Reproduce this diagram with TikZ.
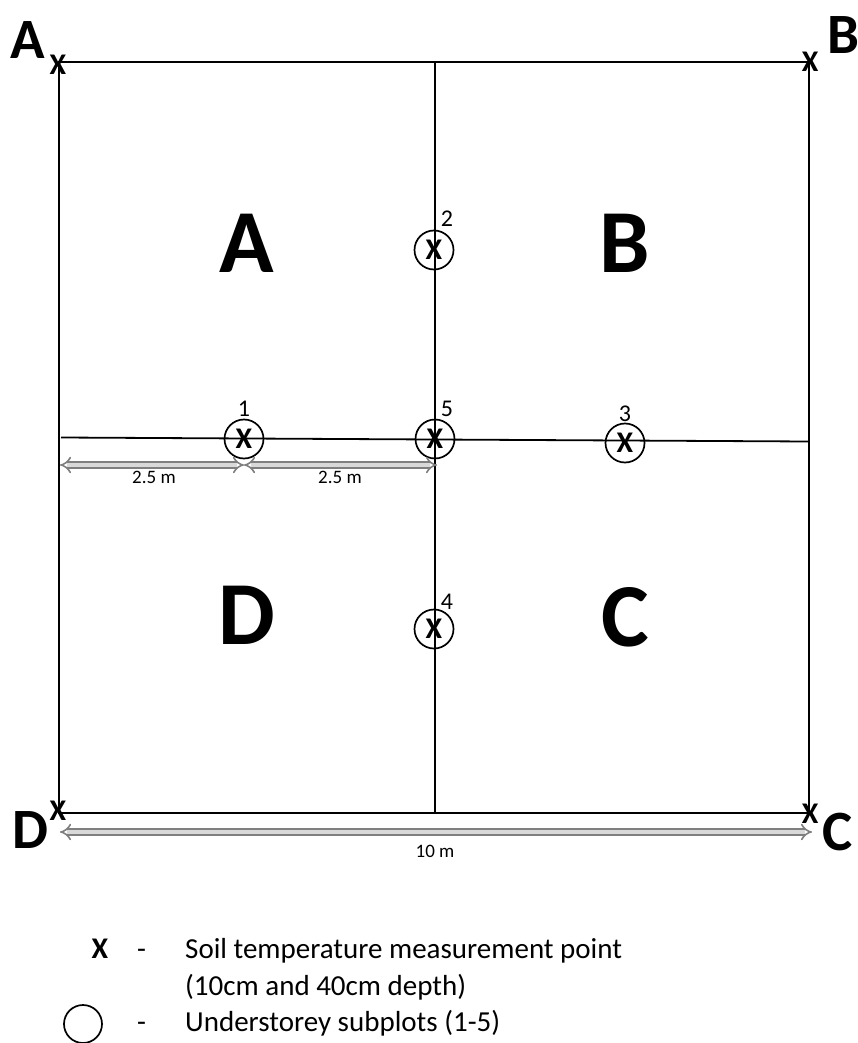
\documentclass[tikz,border=0pt]{standalone}
\usepackage{fontspec}
\setmainfont{Carlito}
\usetikzlibrary{arrows.meta}
\definecolor{arrowedge}{HTML}{7F7F7F}
\definecolor{arrowfill}{HTML}{D9D9D9}
\begin{document}
\begin{tikzpicture}[x=1pt,y=-1pt,
  plotline/.style={line width=1.8pt,black},
  subplot/.style={circle,draw,line width=1.7pt,minimum size=39pt,inner sep=0pt,font=\fontsize{30}{30}\selectfont\bfseries},
  xmark/.style={inner sep=0pt,font=\fontsize{30}{30}\selectfont\bfseries},
  numlab/.style={inner sep=0pt,font=\fontsize{24}{24}\selectfont},
  cornerlab/.style={inner sep=0pt,font=\fontsize{57}{57}\selectfont\bfseries},
  biglab/.style={inner sep=0pt,font=\fontsize{90}{90}\selectfont\bfseries},
  dimlab/.style={inner sep=0pt,font=\fontsize{19}{19}\selectfont},
  legtext/.style={inner sep=0pt,anchor=base west,font=\fontsize{29}{29}\selectfont},
  dimarrow/.style={draw=arrowedge,line width=1.6pt,double=arrowfill,double distance=4pt,{Implies}-{Implies}}]
\useasboundingbox (0,0) rectangle (858,1043);
% corners
\coordinate (cA) at (59,62);
\coordinate (cB) at (809,62);
\coordinate (cC) at (809,813);
\coordinate (cD) at (59,813);
\coordinate (mT) at (435,62);
\coordinate (mB) at (435,813);
\coordinate (mL) at (61,437.5);
\coordinate (mR) at (809,441.5);
\draw[plotline] (cA) -- (cB) -- (cC) -- (cD) -- cycle;
\draw[plotline] (mT) -- (mB);
\draw[plotline] (mL) -- (mR);
% corner x marks
\node[xmark] (xA) at (58,65) {X};
\node[xmark] (xB) at (810,62) {X};
\node[xmark] (xC) at (810,814) {X};
\node[xmark] (xD) at (58,811) {X};
% corner labels
\node[cornerlab] (lA) at (28,40) {A};
\node[cornerlab] (lB) at (843,35) {B};
\node[cornerlab] (lC) at (838,832) {C};
\node[cornerlab] (lD) at (30,830) {D};
% quadrant labels
\node[biglab] (qA) at (247,243) {A};
\node[biglab] (qB) at (625,243) {B};
\node[biglab] (qC) at (625,617) {C};
\node[biglab] (qD) at (247,615) {D};
% subplots
\node[subplot] (s1) at (244,439) {X};
\node[subplot] (s2) at (434,250) {X};
\node[subplot] (s3) at (625,443) {X};
\node[subplot] (s4) at (434,629) {X};
\node[subplot] (s5) at (435,439) {X};
\node[numlab] (n1) at (244,409) {1};
\node[numlab] (n2) at (447,219) {2};
\node[numlab] (n3) at (625,414) {3};
\node[numlab] (n4) at (447,602) {4};
\node[numlab] (n5) at (447,409) {5};
% dimension arrows
\coordinate (d1a) at (60,465);
\coordinate (d1b) at (244,465);
\coordinate (d2b) at (437,465);
\coordinate (d3a) at (60,832);
\coordinate (d3b) at (812,832);
\draw[dimarrow] (d1a) -- (d1b);
\draw[dimarrow] (d1b) -- (d2b);
\draw[dimarrow] (d3a) -- (d3b);
\node[dimlab] (t1) at (154,477) {2.5 m};
\node[dimlab] (t2) at (340,477) {2.5 m};
\node[dimlab] (t3) at (435,851) {10 m};
% legend
\node[xmark] (legX) at (100,949) {X};
\node[legtext] (legd1) at (137,958) {-};
\node[legtext] (leg1) at (185,958) {Soil temperature measurement point};
\node[legtext] (leg2) at (185,995) {(10cm and 40cm depth)};
\node[circle,draw,line width=1.7pt,minimum size=38pt,inner sep=0pt] (legC) at (83,1024) {};
\node[legtext] (legd2) at (137,1031) {-};
\node[legtext] (leg3) at (185,1031) {Understorey subplots (1-5)};
\end{tikzpicture}
\end{document}
